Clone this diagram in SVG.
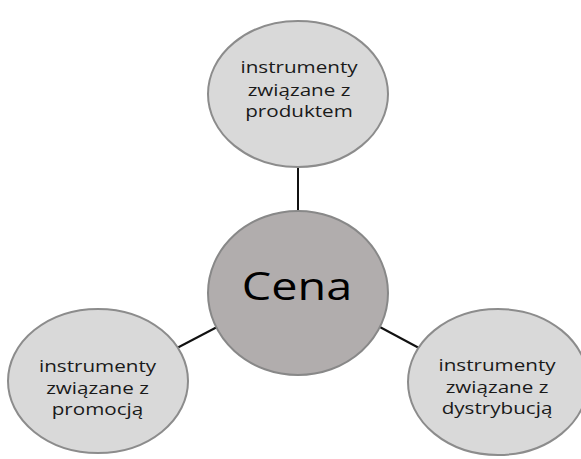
<svg xmlns="http://www.w3.org/2000/svg" width="581" height="459" viewBox="0 0 581 459">
  <style>
    .outer { fill: #d9d9d9; stroke: #8c8c8c; stroke-width: 2; }
    .core { fill: #b1adad; stroke: #888; stroke-width: 2; }
    .link { stroke: #111; stroke-width: 2; fill: none; }
    .lbl { font-family: "Open Sans", "DejaVu Sans", sans-serif; font-size: 16px; fill: #1a1a1a; text-anchor: middle; }
    .big { font-family: "Open Sans", "DejaVu Sans", sans-serif; font-size: 38px; fill: #000; text-anchor: middle; }
  </style>
  <rect width="581" height="459" fill="#fff"/>
  <g id="connectors">
    <line class="link" x1="298" y1="167" x2="298" y2="211"/>
    <line class="link" x1="177" y1="348" x2="219" y2="326"/>
    <line class="link" x1="378" y1="326" x2="419" y2="348"/>
  </g>
  <g id="node-cena">
    <ellipse class="core" cx="298" cy="293" rx="90" ry="82"/>
    <g transform="translate(297 0) scale(1.23 1)">
      <text class="big" x="0" y="300">Cena</text>
    </g>
  </g>
  <g id="node-produkt">
    <ellipse class="outer" cx="298" cy="94" rx="90" ry="73"/>
    <g transform="translate(299 0) scale(1.29 1)">
      <text class="lbl" x="0" y="73">instrumenty</text>
      <text class="lbl" x="0" y="96">związane z</text>
      <text class="lbl" x="0" y="117">produktem</text>
    </g>
  </g>
  <g id="node-promocja">
    <ellipse class="outer" cx="98" cy="381" rx="90" ry="72"/>
    <g transform="translate(97.5 0) scale(1.29 1)">
      <text class="lbl" x="0" y="372">instrumenty</text>
      <text class="lbl" x="0" y="394">związane z</text>
      <text class="lbl" x="0" y="415">promocją</text>
    </g>
  </g>
  <g id="node-dystrybucja">
    <ellipse class="outer" cx="498" cy="382" rx="90" ry="73"/>
    <g transform="translate(497 0) scale(1.29 1)">
      <text class="lbl" x="0" y="371">instrumenty</text>
      <text class="lbl" x="0" y="393">związane z</text>
      <text class="lbl" x="0" y="414">dystrybucją</text>
    </g>
  </g>
</svg>
